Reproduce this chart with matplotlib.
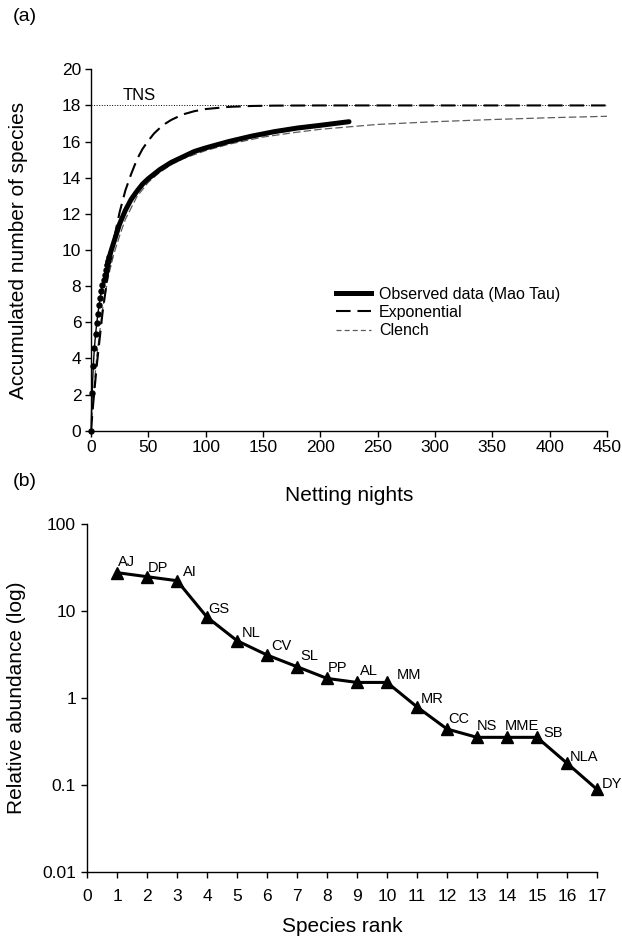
import matplotlib
matplotlib.use('Agg')
import matplotlib.pyplot as plt
from matplotlib.lines import Line2D

plt.rcParams['font.family'] = ['Liberation Sans', 'DejaVu Sans']

# ---------------- Panel (a) data ----------------
obs_nights = [0, 1, 2, 3, 4, 5, 6, 7, 8, 9, 10, 11, 12, 13, 14, 15, 16, 17, 18, 19, 20,
              22, 25, 30, 35, 40, 45, 50, 60, 70, 80, 90, 100, 120, 140, 160, 180, 200, 225]
obs_species = [0, 2.1, 3.6, 4.6, 5.35, 5.94, 6.46, 6.94, 7.33, 7.75, 8.06, 8.35, 8.63, 8.9,
               9.15, 9.4, 9.62, 9.84, 10.05, 10.25, 10.45, 10.85, 11.45, 12.2, 12.8, 13.25,
               13.65, 13.95, 14.45, 14.85, 15.15, 15.45, 15.65, 16.0, 16.3, 16.55, 16.75,
               16.9, 17.1]

exp_nights = [0, 2, 5, 10, 15, 20, 25, 30, 35, 40, 45, 50, 55, 60, 65, 70, 80, 90, 100,
              120, 140, 160, 200, 250, 300, 350, 400, 450]
exp_species = [0, 1.55, 3.6, 6.5, 8.8, 10.6, 12.1, 13.3, 14.2, 15.0, 15.6, 16.05, 16.45,
               16.75, 17.0, 17.2, 17.5, 17.68, 17.8, 17.92, 17.97, 17.99, 18.0, 18.0, 18.0,
               18.0, 18.0, 18.0]

clench_nights = [0, 2, 5, 10, 15, 20, 25, 30, 40, 50, 60, 70, 80, 100, 120, 150, 175, 200,
                 250, 300, 350, 400, 450]
clench_species = [0, 1.9, 4.1, 6.7, 8.5, 9.8, 10.8, 11.7, 12.95, 13.75, 14.3, 14.72, 15.05,
                  15.5, 15.85, 16.25, 16.48, 16.68, 16.95, 17.1, 17.22, 17.32, 17.4]

tns_value = 18
x_ticks_a = [0, 50, 100, 150, 200, 250, 300, 350, 400, 450]
y_ticks_a = [0, 2, 4, 6, 8, 10, 12, 14, 16, 18, 20]
legend_labels = ['Observed data (Mao Tau)', 'Exponential', 'Clench']

# ---------------- Panel (b) data ----------------
species_codes = ['AJ', 'DP', 'AI', 'GS', 'NL', 'CV', 'SL', 'PP', 'AL', 'MM', 'MR', 'CC',
                 'NS', 'MME', 'SB', 'NLA', 'DY']
species_rank = list(range(1, 18))
rel_abundance = [27.6, 24.8, 22.3, 8.5, 4.56, 3.12, 2.29, 1.68, 1.51, 1.51, 0.79, 0.44,
                 0.353, 0.353, 0.353, 0.178, 0.089]
y_ticks_b = [0.01, 0.1, 1, 10, 100]
y_ticklabels_b = ['0.01', '0.1', '1', '10', '100']
x_ticks_b = list(range(0, 18))

# label offsets in pixels (dx, dy up to baseline)
label_offsets = [(1, 7), (1, 5), (6, 5), (1, 4), (5, 4), (4, 5), (3, 7), (1, 6), (3, 7),
                 (10, 3), (4, 4), (1, 6), (0, 7), (-2, 7), (6, 0), (3, 2), (5, 1)]

W, H = 622, 942
fig = plt.figure(figsize=(W / 100, H / 100), dpi=100)

# ---------------- Panel (a) ----------------
ax1 = fig.add_axes([91 / W, 1 - 430.7 / H, 516 / W, 361.4 / H])
ax1.plot([0, 450], [tns_value, tns_value], ls=':', color='black', lw=0.7)
ax1.plot(clench_nights, clench_species, color='#5c5c5c', lw=0.9, dashes=(6, 2.5))
ax1.plot(exp_nights, exp_species, color='black', lw=1.5, dashes=(7, 3.3))
ax1.plot(obs_nights, obs_species, color='black', lw=1.0, clip_on=False)
ax1.plot(obs_nights[14:], obs_species[14:], color='black', lw=3.6,
         solid_capstyle='round', solid_joinstyle='round', clip_on=False)
ax1.plot(obs_nights[:17], obs_species[:17], 'o', ms=3.6, color='black', clip_on=False)
ax1.text(28, 18.3, 'TNS', fontsize=12, va='baseline', ha='left')

ax1.set_xlim(0, 450)
ax1.set_ylim(0, 20)
ax1.set_xticks(x_ticks_a)
ax1.set_yticks(y_ticks_a)
for s in ['top', 'right']:
    ax1.spines[s].set_visible(False)
for s in ['left', 'bottom']:
    ax1.spines[s].set_linewidth(1.0)
ax1.tick_params(axis='both', labelsize=12.5, length=4, width=1.0, direction='out')
ax1.tick_params(axis='x', pad=3)
ax1.tick_params(axis='y', pad=3)

handles = [Line2D([], [], color='black', lw=3.6),
           Line2D([], [], color='black', lw=1.5, dashes=(7, 3.3)),
           Line2D([], [], color='#5c5c5c', lw=0.9, dashes=(4, 2.5))]
ax1.legend(handles, legend_labels, loc='upper left', bbox_to_anchor=(0.475, 0.398),
           frameon=False, fontsize=11.5, handlelength=2.2, handletextpad=0.5,
           labelspacing=0.2, borderpad=0, borderaxespad=0)

fig.text(19 / W, 1 - 250 / H, 'Accumulated number of species', rotation=90,
         ha='center', va='center', fontsize=15)
fig.text(349 / W, 1 - 501 / H, 'Netting nights', ha='center', va='baseline', fontsize=15)
fig.text(13 / W, 1 - 21 / H, '(a)', ha='left', va='baseline', fontsize=14)
fig.text(13 / W, 1 - 486 / H, '(b)', ha='left', va='baseline', fontsize=14)

# ---------------- Panel (b) ----------------
ax2 = fig.add_axes([87 / W, 1 - 872 / H, 510 / W, 348 / H])
ax2.set_yscale('log')
ax2.plot(species_rank, rel_abundance, '-^', color='black', lw=2.2, ms=9,
         clip_on=False)
for code, r, v, (dx, dy) in zip(species_codes, species_rank, rel_abundance, label_offsets):
    ax2.annotate(code, (r, v), xytext=(dx, dy), textcoords='offset pixels',
                 ha='left', va='baseline', fontsize=10.5)

ax2.set_xlim(0, 17)
ax2.set_ylim(0.01, 100)
ax2.set_yticks(y_ticks_b)
ax2.set_yticklabels(y_ticklabels_b)
ax2.yaxis.set_minor_locator(matplotlib.ticker.NullLocator())
ax2.set_xticks(x_ticks_b)
for s in ['top', 'right']:
    ax2.spines[s].set_visible(False)
for s in ['left', 'bottom']:
    ax2.spines[s].set_linewidth(1.0)
ax2.tick_params(axis='both', labelsize=12.5, length=4, width=1.0, direction='out')
ax2.tick_params(axis='x', pad=8)
ax2.tick_params(axis='y', pad=4)

fig.text(17 / W, 1 - 698 / H, 'Relative abundance (log)', rotation=90,
         ha='center', va='center', fontsize=15)
fig.text(342 / W, 1 - 932 / H, 'Species rank', ha='center', va='baseline', fontsize=15)

fig.savefig('out.png', dpi=100)
